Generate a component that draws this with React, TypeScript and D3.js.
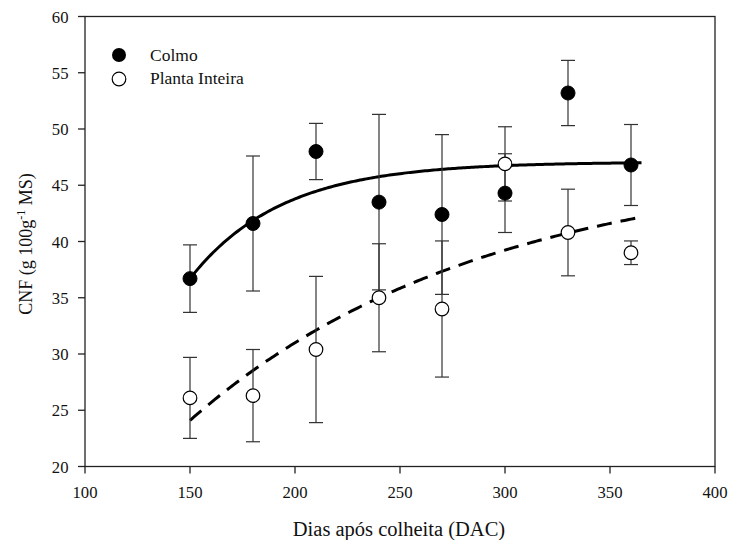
import React from "react";
import * as d3 from "d3";

const days = [150, 180, 210, 240, 270, 300, 330, 360];
const colmoMean = [36.7, 41.6, 48.0, 43.5, 42.4, 44.3, 53.2, 46.8];
const colmoErr = [3.0, 6.0, 2.5, 7.8, 7.1, 3.5, 2.9, 3.6];
const plantaMean = [26.1, 26.3, 30.4, 35.0, 34.0, 46.9, 40.8, 39.0];
const plantaErr = [3.6, 4.1, 6.5, 4.8, 6.05, 3.3, 3.85, 1.05];

// fitted curves y = a - b * exp(-k (x - x0))
const colmoFit = { a: 47.07, b: 10.37, k: 0.023, x0: 150 };
const plantaFit = { a: 47.17, b: 23.07, k: 0.00711, x0: 150 };
const fitRange = [150, 365];

const xTicks = [100, 150, 200, 250, 300, 350, 400];
const yTicks = [20, 25, 30, 35, 40, 45, 50, 55, 60];

const W = 730, H = 540;
const left = 85, right = 715, top = 16.5, bottom = 466.5;
const FONT = "'Liberation Serif', 'Times New Roman', serif";

export default function App() {
  const x = d3.scaleLinear().domain([100, 400]).range([left, right]);
  const y = d3.scaleLinear().domain([20, 60]).range([bottom, top]);

  const curve = (f: { a: number; b: number; k: number; x0: number }) => {
    const pts: [number, number][] = [];
    for (let d = fitRange[0]; d <= fitRange[1]; d += 1) {
      pts.push([d, f.a - f.b * Math.exp(-f.k * (d - f.x0))]);
    }
    return d3.line<[number, number]>().x((p) => x(p[0])).y((p) => y(p[1]))(pts) || "";
  };

  const errBars = (means: number[], errs: number[], key: string) =>
    days.map((d, i) => {
      const cx = x(d);
      const y1 = y(means[i] + errs[i]);
      const y2 = y(means[i] - errs[i]);
      return (
        <g key={key + i} stroke="#333" strokeWidth={1.2}>
          <line x1={cx} x2={cx} y1={y1} y2={y2} />
          <line x1={cx - 7} x2={cx + 7} y1={y1} y2={y1} />
          <line x1={cx - 7} x2={cx + 7} y1={y2} y2={y2} />
        </g>
      );
    });

  return (
    <svg
      width={W}
      height={H}
      style={{ position: "absolute", left: 0, top: 0, background: "#fff" }}
      fontFamily={FONT}
    >
      {/* frame */}
      <rect x={left} y={top} width={right - left} height={bottom - top} fill="none" stroke="#222" strokeWidth={1.3} />
      {/* x ticks */}
      {xTicks.map((t) => (
        <g key={"xt" + t}>
          <line x1={x(t)} x2={x(t)} y1={bottom} y2={bottom + 7} stroke="#222" strokeWidth={1.3} />
          <text x={x(t)} y={bottom + 31.5} textAnchor="middle" fontSize={16.7} fill="#111">
            {t}
          </text>
        </g>
      ))}
      {/* y ticks */}
      {yTicks.map((t) => (
        <g key={"yt" + t}>
          <line x1={left - 7} x2={left} y1={y(t)} y2={y(t)} stroke="#222" strokeWidth={1.3} />
          <text x={68.5} y={y(t) + 6} textAnchor="end" fontSize={16.7} fill="#111">
            {t}
          </text>
        </g>
      ))}
      {/* axis labels */}
      <text x={399} y={536} textAnchor="middle" fontSize={20.5} fill="#111">
        Dias após colheita (DAC)
      </text>
      <text
        transform={`translate(32, 244) rotate(-90)`}
        textAnchor="middle"
        fontSize={18}
        fill="#111"
      >
        CNF (g 100g<tspan dy={-7} fontSize={12}>-1</tspan>
        <tspan dy={7}> MS)</tspan>
      </text>

      {/* curves */}
      <path d={curve(colmoFit)} fill="none" stroke="#000" strokeWidth={3} />
      <path d={curve(plantaFit)} fill="none" stroke="#000" strokeWidth={3} strokeDasharray="15 9" />

      {/* error bars */}
      {errBars(colmoMean, colmoErr, "ce")}
      {errBars(plantaMean, plantaErr, "pe")}

      {/* markers */}
      {days.map((d, i) => (
        <circle key={"cm" + i} cx={x(d)} cy={y(colmoMean[i])} r={7} fill="#000" stroke="#000" strokeWidth={1} />
      ))}
      {days.map((d, i) => (
        <circle key={"pm" + i} cx={x(d)} cy={y(plantaMean[i])} r={6.8} fill="#fff" stroke="#000" strokeWidth={1.2} />
      ))}

      {/* legend */}
      <circle cx={119} cy={55} r={7} fill="#000" />
      <text x={150} y={61} fontSize={17.5} fill="#111">Colmo</text>
      <circle cx={119} cy={79} r={6.8} fill="#fff" stroke="#000" strokeWidth={1.2} />
      <text x={150} y={83.5} fontSize={17.5} fill="#111">Planta Inteira</text>
    </svg>
  );
}
